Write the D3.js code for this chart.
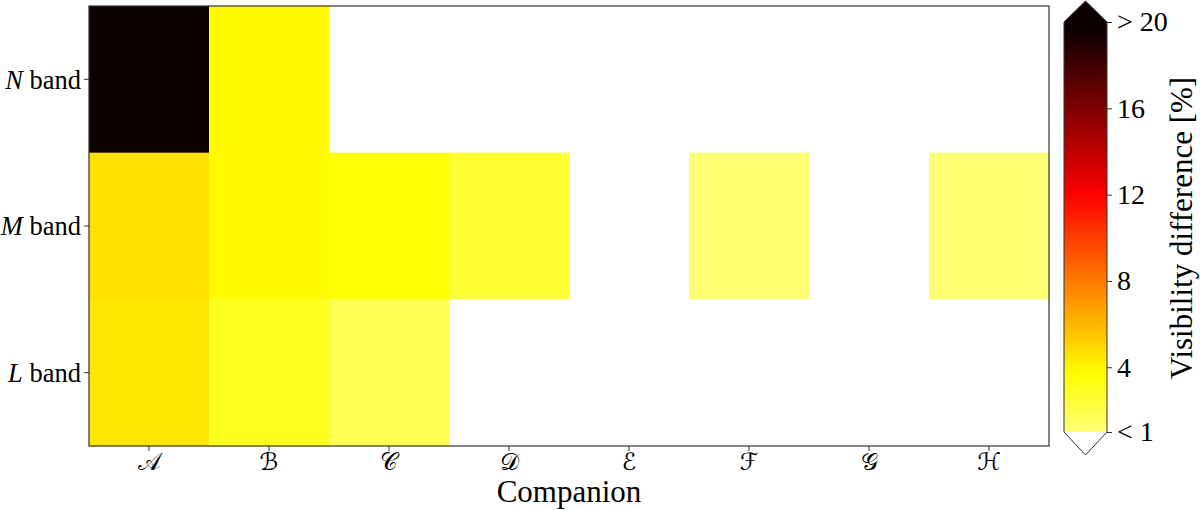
<!DOCTYPE html>
<html><head><meta charset="utf-8">
<script src="https://cdn.jsdelivr.net/npm/d3@7"></script>
<style>body{margin:0;background:#fff}svg{display:block}text{font-family:"Liberation Serif","Times New Roman",serif;fill:#000}</style>
</head><body><svg id="c" width="1200" height="510"></svg>
<script>
const companions = ["𝒜","ℬ","𝒞","𝒟","ℰ","ℱ","𝒢","ℋ"];
const bands = ["N","M","L"];
// visibility difference [%] per band (rows) and companion (columns); values < 1 drawn white
const nBand = [22.0, 3.8, 0, 0, 0, 0, 0, 0];
const mBand = [4.6, 3.8, 3.5, 2.5, 0, 1.1, 0, 1.1];
const lBand = [4.4, 3.0, 1.8, 0, 0, 0, 0, 0];
const cbTicks = [1, 4, 8, 12, 16, 20];
const cbTickLabels = ["< 1", "4", "8", "12", "16", "> 20"];

const rows = {N: nBand, M: mBand, L: lBand};
const svg = d3.select("#c");
const W = {l: 89, r: 1049, t: 6, b: 446};
const x = d3.scaleBand().domain(companions).range([W.l, W.r]).padding(0);
const y = d3.scaleBand().domain(bands).range([W.t, W.b]).padding(0);

function hot(h){ h=Math.max(0,Math.min(1,h));
  const r=Math.min(1,h/0.365), g=Math.max(0,Math.min(1,(h-0.365)/0.381)), b=Math.max(0,Math.min(1,(h-0.746)/0.254));
  return d3.rgb(r*255,g*255,b*255).toString(); }
const k = 0.0456;
function color(v){ if (v < 1) return "#ffffff"; if (v > 20) return hot(0.018); return hot(Math.max(0.018,k*(20-v))); }

const cells = [];
bands.forEach(b => rows[b].forEach((v,i) => cells.push({b, c: companions[i], v})));
svg.append("g").selectAll("rect").data(cells).join("rect")
  .attr("x", d => x(d.c)).attr("y", d => y(d.b))
  .attr("width", x.bandwidth()+0.5).attr("height", y.bandwidth()+0.5)
  .attr("fill", d => color(d.v));
svg.append("rect").attr("x", W.l).attr("y", W.t).attr("width", W.r-W.l).attr("height", W.b-W.t)
  .attr("fill","none").attr("stroke","#333").attr("stroke-width",1.2);

// x axis
const xa = svg.append("g").attr("transform", `translate(0,${W.b})`)
  .call(d3.axisBottom(x).tickSize(5).tickPadding(4));
xa.select(".domain").remove();
xa.attr("font-family", null);
xa.selectAll("text").attr("dy","0.62em").style("font-size","24px").style("font-family","'DejaVu Serif','DejaVu Sans',serif");
xa.selectAll("line").attr("stroke","#333");
svg.append("text").attr("x", (W.l+W.r)/2).attr("y", 502).attr("text-anchor","middle").style("font-size","31px").text("Companion");

// y axis
const ya = svg.append("g").attr("transform", `translate(${W.l},0)`)
  .call(d3.axisLeft(y).tickSize(5).tickPadding(4).tickFormat(()=>""));
ya.select(".domain").remove();
ya.attr("font-family", null);
ya.selectAll("line").attr("stroke","#333");
ya.selectAll(".tick").append("text").attr("x",-8).attr("dy","0.35em").attr("text-anchor","end")
  .style("font-size","26.5px").attr("fill","#000")
  .each(function(d){ const t=d3.select(this); t.append("tspan").style("font-style","italic").text(d); t.append("tspan").text(" band"); });

// colorbar
const cb = {x0: 1064, x1: 1107, top: 22, bot: 432};
const cy = d3.scaleLinear().domain([1,20]).range([cb.bot, cb.top]);
const defs = svg.append("defs");
const grad = defs.append("linearGradient").attr("id","g").attr("x1",0).attr("y1",1).attr("x2",0).attr("y2",0);
d3.range(0,1.0001,0.02).forEach(t => grad.append("stop").attr("offset", t).attr("stop-color", color(1+19*t)));
svg.append("rect").attr("x",cb.x0).attr("y",cb.top).attr("width",cb.x1-cb.x0).attr("height",cb.bot-cb.top).attr("fill","url(#g)");
const mid = (cb.x0+cb.x1)/2;
svg.append("path").attr("d",`M${cb.x0},${cb.top}L${mid},${cb.top-21}L${cb.x1},${cb.top}Z`).attr("fill", color(21));
svg.append("path").attr("d",`M${cb.x0},${cb.bot}L${mid},${cb.bot+23}L${cb.x1},${cb.bot}Z`).attr("fill","#fff");
svg.append("path").attr("d",`M${cb.x0},${cb.top}L${mid},${cb.top-21}L${cb.x1},${cb.top}L${cb.x1},${cb.bot}L${mid},${cb.bot+23}L${cb.x0},${cb.bot}Z`)
  .attr("fill","none").attr("stroke","#333").attr("stroke-width",1);
const ca = svg.append("g").attr("transform",`translate(${cb.x1},0)`)
  .call(d3.axisRight(cy).tickValues(cbTicks).tickSize(5).tickPadding(5).tickFormat((d,i)=>cbTickLabels[i]));
ca.select(".domain").remove();
ca.attr("font-family", null);
ca.selectAll("line").attr("stroke","#333");
ca.selectAll("text").style("font-size","28px");
svg.append("text").attr("transform","translate(1192,228) rotate(-90)").attr("text-anchor","middle").style("font-size","31px").text("Visibility difference [%]");
</script></body></html>
